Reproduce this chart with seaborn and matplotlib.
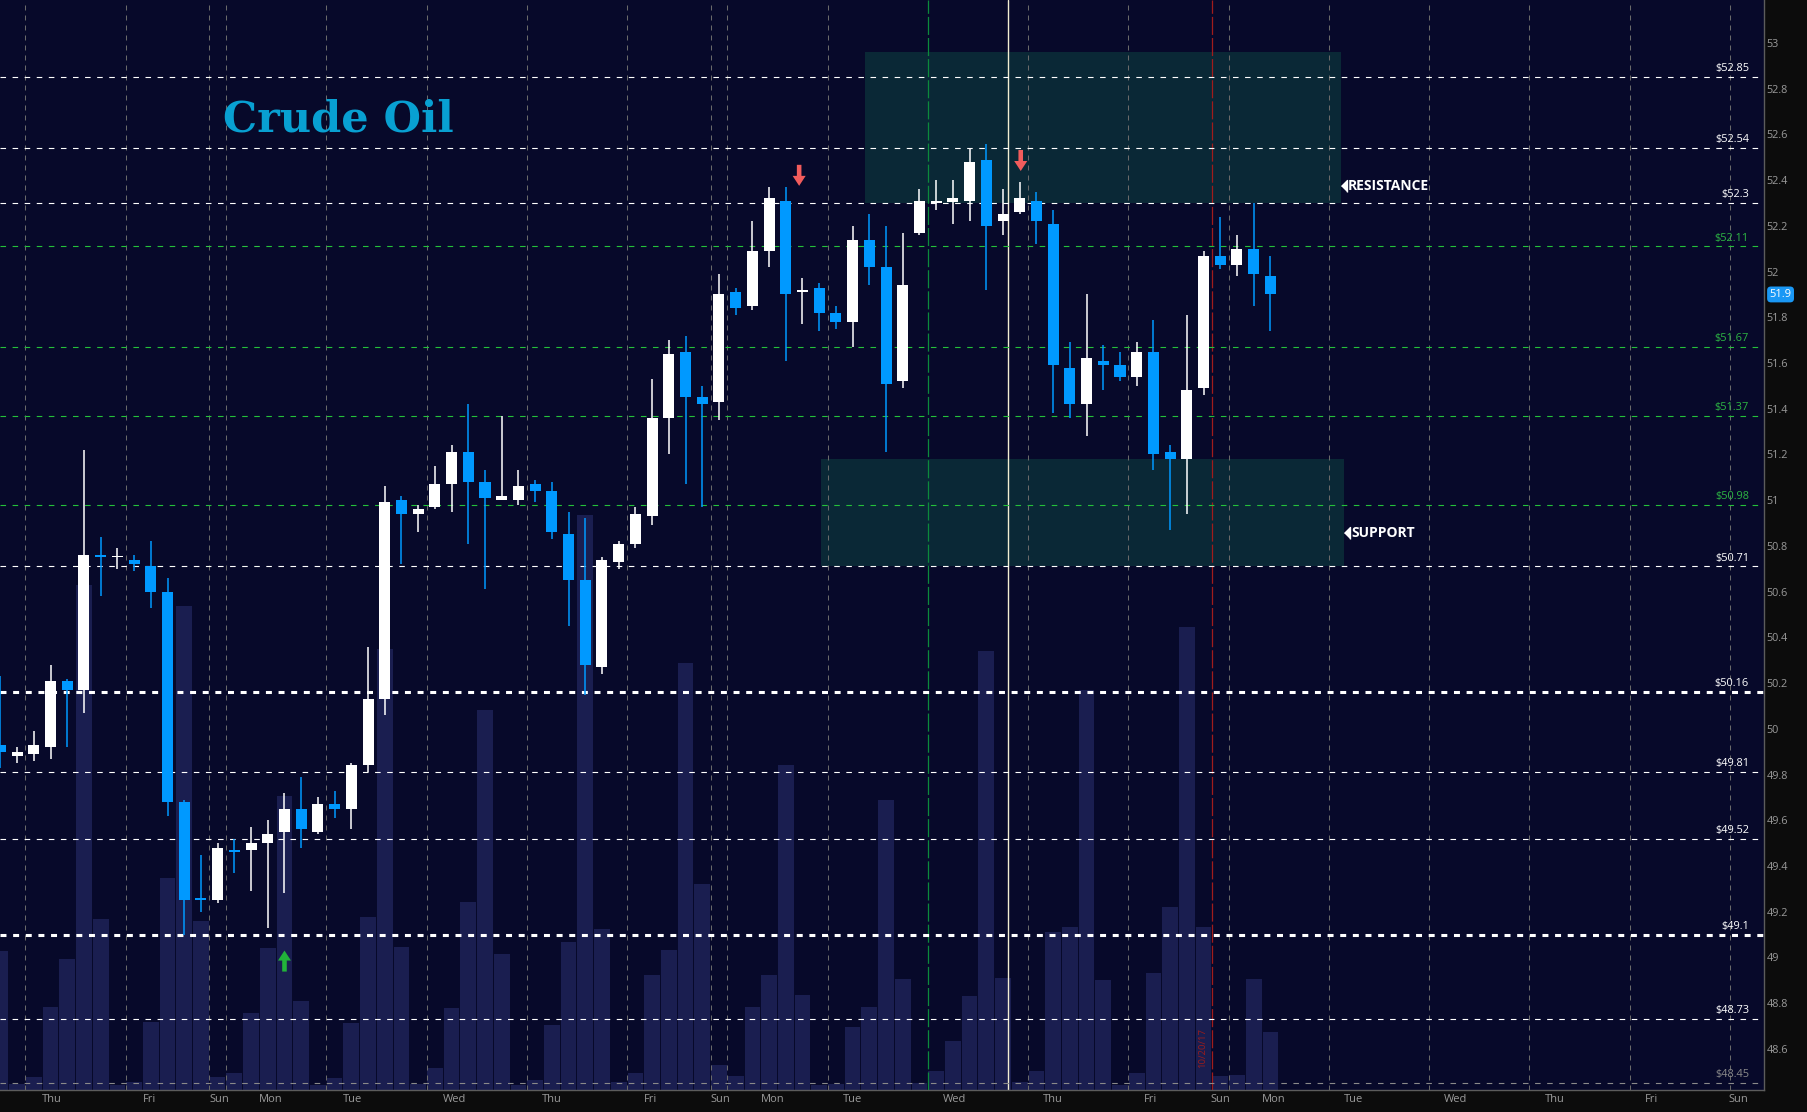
import numpy as np
import pandas as pd
import matplotlib
matplotlib.use("Agg")
import matplotlib.pyplot as plt
import matplotlib.transforms as mtransforms
from matplotlib.patches import Rectangle
import seaborn as sns

# 4-hour crude oil bars (open, high, low, close)
opens = [49.93, 49.88, 49.89, 49.92, 50.21, 50.17, 50.76, 50.75, 50.74, 50.71,
         50.60, 49.68, 49.26, 49.25, 49.47, 49.47, 49.50, 49.55, 49.65, 49.55,
         49.67, 49.65, 49.84, 50.13, 51.00, 50.94, 50.97, 51.07, 51.21, 51.08,
         51.00, 51.00, 51.07, 51.04, 50.85, 50.65, 50.27, 50.73, 50.81, 50.93,
         51.36, 51.65, 51.45, 51.43, 51.91, 51.85, 52.09, 52.31, 51.91, 51.93,
         51.82, 51.78, 52.14, 52.02, 51.52, 52.17, 52.30, 52.305, 52.31, 52.49,
         52.22, 52.26, 52.31, 52.21, 51.58, 51.42, 51.61, 51.59, 51.54, 51.65,
         51.21, 51.18, 51.49, 52.07, 52.03, 52.10, 51.98]
highs = [50.23, 49.92, 49.99, 50.28, 50.22, 51.22, 50.84, 50.79, 50.76, 50.82,
         50.66, 49.69, 49.45, 49.50, 49.52, 49.57, 49.60, 49.72, 49.79, 49.70,
         49.73, 49.85, 50.36, 51.06, 51.02, 50.98, 51.15, 51.24, 51.42, 51.13,
         51.37, 51.13, 51.09, 51.08, 50.95, 50.92, 50.75, 50.82, 50.97, 51.53,
         51.70, 51.72, 51.50, 51.99, 51.93, 52.22, 52.37, 52.37, 51.97, 51.95,
         51.85, 52.20, 52.25, 52.20, 52.17, 52.36, 52.40, 52.40, 52.54, 52.56,
         52.36, 52.39, 52.35, 52.27, 51.69, 51.90, 51.68, 51.65, 51.69, 51.79,
         51.24, 51.81, 52.09, 52.24, 52.16, 52.30, 52.07]
lows = [49.83, 49.85, 49.86, 49.87, 49.92, 50.07, 50.58, 50.70, 50.69, 50.53,
        49.62, 49.10, 49.20, 49.24, 49.37, 49.29, 49.13, 49.28, 49.48, 49.54,
        49.61, 49.56, 49.81, 50.06, 50.72, 50.86, 50.96, 50.95, 50.81, 50.61,
        51.00, 50.98, 50.99, 50.83, 50.45, 50.15, 50.24, 50.70, 50.79, 50.89,
        51.20, 51.07, 50.97, 51.35, 51.81, 51.83, 52.02, 51.61, 51.77, 51.74,
        51.75, 51.67, 51.94, 51.21, 51.49, 52.16, 52.27, 52.21, 52.22, 51.92,
        52.16, 52.25, 52.12, 51.38, 51.36, 51.28, 51.48, 51.52, 51.50, 51.13,
        50.87, 50.94, 51.46, 52.01, 51.98, 51.85, 51.74]
closes = [49.90, 49.90, 49.93, 50.21, 50.17, 50.76, 50.75, 50.75, 50.72, 50.60,
          49.68, 49.25, 49.25, 49.48, 49.46, 49.50, 49.54, 49.65, 49.56, 49.67,
          49.65, 49.84, 50.13, 50.99, 50.94, 50.96, 51.07, 51.21, 51.08, 51.01,
          51.02, 51.06, 51.04, 50.86, 50.65, 50.28, 50.74, 50.81, 50.94, 51.36,
          51.64, 51.45, 51.42, 51.90, 51.84, 52.09, 52.32, 51.90, 51.92, 51.82,
          51.78, 52.14, 52.02, 51.51, 51.94, 52.31, 52.31, 52.32, 52.48, 52.20,
          52.25, 52.32, 52.22, 51.59, 51.42, 51.62, 51.59, 51.54, 51.65, 51.20,
          51.18, 51.48, 52.07, 52.03, 52.10, 51.99, 51.90]
# volume, thousand contracts
volume_k = [13.9, 0.6, 1.3, 8.3, 13.1, 50.5, 17.1, 0.5, 0.8, 6.8,
            21.2, 48.4, 16.9, 1.3, 1.7, 7.7, 14.2, 29.4, 8.9, 0.5,
            1.2, 6.7, 17.3, 44.1, 14.3, 0.6, 2.2, 8.2, 18.8, 38.0,
            13.6, 0.5, 1.0, 6.5, 14.8, 57.5, 16.1, 0.8, 1.7, 11.5,
            14.0, 42.7, 20.6, 2.5, 1.4, 8.3, 11.5, 32.5, 9.5, 0.5,
            0.6, 6.3, 8.3, 29.0, 11.1, 0.7, 1.9, 4.9, 9.4, 43.9,
            11.2, 0.8, 1.9, 15.8, 16.3, 40.0, 11.0, 0.5, 1.7, 11.7,
            18.3, 46.3, 16.3, 1.4, 1.5, 11.1, 5.8]

day_names = ["Thu", "Fri", "Sun", "Mon", "Tue", "Wed", "Thu", "Fri", "Sun", "Mon", "Tue",
             "Wed", "Thu", "Fri", "Sun", "Mon", "Tue", "Wed", "Thu", "Fri", "Sun"]
day_pos = [3.1, 8.9, 13.1, 16.2, 21.1, 27.2, 33.0, 38.9, 43.1, 46.2, 51.0,
           57.1, 63.0, 68.8, 73.0, 76.2, 81.0, 87.1, 93.0, 98.8, 104.0]
grid_x = [1.5, 7.5, 12.5, 13.5, 19.5, 25.5, 31.5, 37.5, 42.5, 43.5, 49.5,
          61.5, 67.5, 73.5, 79.5, 85.5, 91.5, 97.5, 103.5]

white_levels = [52.85, 52.54, 52.3, 50.71, 49.81, 49.52, 48.73]
dotted_levels = [50.16, 49.1]
green_levels = [52.11, 51.67, 51.37, 50.98]
grey_levels = [48.45]

# zones: (x from, x to, price from, price to)
resistance_zone = (51.75, 80.2, 52.30, 52.96)
support_zone = (49.1, 80.4, 50.71, 51.18)

sell_signals = [(47.8, 52.375), (61.06, 52.44)]
buy_signals = [(17.0, 49.03)]
last_price = 51.9

BG = "#07092a"
FIG_BG = "#0c0c0c"
VOL = "#1a1e50"
ZONE = "#0a2836"
UP = "#ffffff"
DOWN = "#0099ff"
GREEN = "#25c03a"
AXIS_TXT = "#9a9a9a"

sns.set_theme(style="dark")
plt.rcParams['font.family'] = ['Open Sans', 'DejaVu Sans']
plt.rcParams['lines.scale_dashes'] = False

fig = plt.figure(figsize=(18.08, 11.12), dpi=100, facecolor=FIG_BG)
rect = [0, 22 / 1112, 1764 / 1808, 1090 / 1112]
xlim = (-0.024, 105.54)
ylim = (48.42, 53.188)

# volume underneath
ax_vol = fig.add_axes(rect)
vol_df = pd.DataFrame({"bar": np.arange(len(volume_k)), "volume": volume_k})
sns.barplot(data=vol_df, x="bar", y="volume", native_scale=True, width=0.94,
            color=VOL, saturation=1, linewidth=0, errorbar=None, ax=ax_vol)
ax_vol.set_facecolor(BG)
ax_vol.set_xlim(*xlim)
ax_vol.set_ylim(0, 109)
ax_vol.set_xticks([])
ax_vol.set_yticks([])
ax_vol.set_xlabel("")
ax_vol.set_ylabel("")
for s in ax_vol.spines.values():
    s.set_visible(False)

# price axes on top
ax = fig.add_axes(rect)
ax.set_zorder(ax_vol.get_zorder() + 1)
ax.patch.set_alpha(0)
ax.set_xlim(*xlim)
ax.set_ylim(*ylim)

for z in [resistance_zone, support_zone]:
    ax.add_patch(Rectangle((z[0], z[2]), z[1] - z[0], z[3] - z[2],
                           facecolor=ZONE, edgecolor="none", zorder=0.5))

for gx in grid_x:
    ax.axvline(gx, color="#6a6a6a", lw=0.75, ls=(0, (3.6, 3.6)), zorder=1)
ax.axvline(55.5, color="#0c8a3c", lw=0.9, ls=(0, (13, 2.2)), zorder=1)
ax.axvline(72.5, color="#a01c1c", lw=0.9, ls=(0, (13, 2.2)), zorder=1)
ax.axvline(60.3, color="#f2eed2", lw=1.0, zorder=1)

blend = mtransforms.blended_transform_factory(ax.transAxes, ax.transData)

def level(v, color, lw, dash, txt_color):
    ax.axhline(v, color=color, lw=lw, ls=(0, dash), zorder=1.5)
    ax.annotate(f"${v:g}", xy=(0.9915, v), xycoords=blend, xytext=(0, 2),
                textcoords="offset points", ha="right", va="bottom",
                fontsize=7.9, color=txt_color, zorder=5)

for v in white_levels:
    level(v, "white", 0.8, (4, 4.7), "white")
for v in dotted_levels:
    level(v, "white", 2.2, (4.3, 4.8), "white")
for v in green_levels:
    level(v, GREEN, 0.8, (4, 4.7), "#2db543")
for v in grey_levels:
    level(v, "#8a8a8a", 0.8, (4, 4.7), "#8a8a8a")

# candles
x = np.arange(len(opens))
o, h, l, c = (np.array(a) for a in (opens, highs, lows, closes))
colors = np.where(c >= o, UP, DOWN)
ax.vlines(x, l, h, colors=colors, lw=1.1, zorder=3)
ax.bar(x, np.maximum(np.abs(c - o), 0.008), bottom=np.minimum(o, c), width=0.66,
       color=colors, linewidth=0, zorder=4)

# signals
for sx, sy in sell_signals:
    ax.annotate("", xy=(sx, sy), xytext=(sx, sy + 0.092),
                arrowprops=dict(facecolor="#f25c5c", edgecolor="none", width=3.3,
                                headwidth=9.4, headlength=7.2, shrink=0), zorder=5)
for bx, by in buy_signals:
    ax.annotate("", xy=(bx, by), xytext=(bx, by - 0.092),
                arrowprops=dict(facecolor="#22b33a", edgecolor="none", width=3.3,
                                headwidth=9.4, headlength=7.2, shrink=0), zorder=5)

# zone labels
tri = [(-1, 0), (1, 2), (1, -2)]
for z, name in [(resistance_zone, "RESISTANCE"), (support_zone, "SUPPORT")]:
    ty = 52.376 if name == "RESISTANCE" else 50.858
    ax.plot([z[1]], [ty], marker=tri, markersize=8.6, color="white",
            linestyle="none", transform=ax.transData + mtransforms.ScaledTranslation(3 / 100, 0, fig.dpi_scale_trans),
            zorder=5, clip_on=False)
    ax.annotate(name, xy=(z[1], ty), xytext=(5.5, 0), textcoords="offset points",
                ha="left", va="center", fontsize=10, fontweight="bold", color="white",
                zorder=5)

ax.text(71.97, 48.604, "10/20/17", rotation=90, color="#9a1c1c", fontsize=6.8,
        ha="center", va="center", zorder=5)

fig.text(223 / 1808, 1 - 131.7 / 1112, "Crude Oil", family="DejaVu Serif",
         fontweight="bold", fontsize=31, color="#08a0d2", va="baseline", ha="left")

# axes styling
ax.set_xticks(day_pos, day_names)
yt = np.round(np.arange(48.6, 53.01, 0.2), 1)
ax.yaxis.tick_right()
ax.set_yticks(yt, [f"{v:g}" for v in yt])
ax.tick_params(axis="x", colors=AXIS_TXT, labelsize=8, length=0, pad=3)
ax.tick_params(axis="y", colors=AXIS_TXT, labelsize=7.8, length=0, pad=2)
for side in ["top", "left"]:
    ax.spines[side].set_visible(False)
for side in ["right", "bottom"]:
    ax.spines[side].set_visible(True)
    ax.spines[side].set_color("#5c5c5c")
    ax.spines[side].set_linewidth(1)
ax.grid(False)

ax.annotate(f"{last_price:g}", xy=(1, last_price), xycoords=blend, xytext=(4, 0),
            textcoords="offset points", ha="left", va="center", fontsize=8,
            color="white", annotation_clip=False, zorder=6,
            bbox=dict(boxstyle="round,pad=0.22,rounding_size=0.35", fc="#1a98f5", ec="none"))

fig.savefig("out.png", dpi=100, facecolor=fig.get_facecolor())
